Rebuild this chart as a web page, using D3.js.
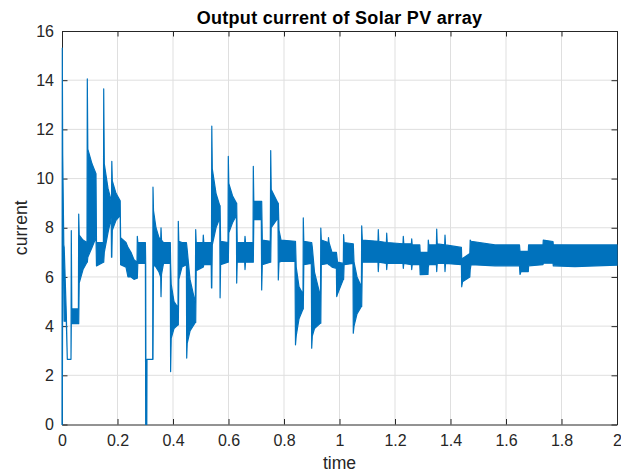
<!DOCTYPE html>
<html>
<head>
<meta charset="utf-8">
<script src="https://cdn.jsdelivr.net/npm/d3@7"></script>
<style>
  html, body { margin: 0; padding: 0; background: #fff; }
  svg text { font-family: "Liberation Sans", Arial, Helvetica, sans-serif; }
</style>
</head>
<body>
<div id="chart"></div>
<script>
// envelope of the (fast oscillating) PV current
var time = [0, 0.0011, 0.0025, 0.0065, 0.0079, 0.0155, 0.0191, 0.0324, 0.0335, 0.0353,
  0.0591, 0.0602, 0.0620, 0.0757, 0.0901, 0.0912, 0.0930, 0.1081, 0.1225, 0.1243,
  0.1492, 0.1503, 0.1524, 0.1658, 0.1773, 0.1784, 0.1795, 0.1813, 0.1946, 0.2097,
  0.2112, 0.2306, 0.2378, 0.2486, 0.2595, 0.2703, 0.2714, 0.2732, 0.3005, 0.3016,
  0.3027, 0.3049, 0.3056, 0.3063, 0.3268, 0.3279, 0.3297, 0.3387, 0.3495, 0.3557,
  0.3568, 0.3586, 0.3658, 0.3903, 0.3914, 0.3935, 0.4036, 0.4180, 0.4191, 0.4209,
  0.4324, 0.4483, 0.4494, 0.4512, 0.4613, 0.4804, 0.4818, 0.4836, 0.5081, 0.5092,
  0.5110, 0.5377, 0.5387, 0.5398, 0.5416, 0.5550, 0.5686, 0.5697, 0.5715, 0.5982,
  0.5993, 0.6011, 0.6144, 0.6285, 0.6295, 0.6314, 0.6584, 0.6595, 0.6613, 0.6883,
  0.6894, 0.6912, 0.7182, 0.7196, 0.7218, 0.7506, 0.7521, 0.7539, 0.7784, 0.7795,
  0.7820, 0.7892, 0.8396, 0.8414, 0.8440, 0.8541, 0.8685, 0.8695, 0.8714, 0.8984,
  0.8998, 0.9020, 0.9099, 0.9315, 0.9326, 0.9344, 0.9593, 0.9604, 0.9622, 0.9730,
  0.9888, 0.9899, 0.9928, 1.0137, 1.0148, 1.0166, 1.0486, 1.0497, 1.0523, 1.0631,
  1.0789, 1.0800, 1.0822, 1.1387, 1.1398, 1.1416, 1.1690, 1.1701, 1.1719, 1.2288,
  1.2299, 1.2317, 1.2591, 1.2602, 1.2620, 1.2894, 1.2908, 1.3189, 1.3200, 1.3218,
  1.3492, 1.3503, 1.3521, 1.3791, 1.3802, 1.3820, 1.4393, 1.4404, 1.4432, 1.4696,
  1.4710, 1.4739, 1.5604, 1.6486, 1.6505, 1.6541, 1.6804, 1.6814, 1.7333, 1.7344,
  1.7694, 1.7705, 1.8486, 2.0];

var upper = [0, 15.3, 11.0, 7.3, 7.2, 4.5, 2.65, 2.65, 7.88, 4.7,
  4.7, 8.56, 7.7, 7.5, 7.4, 14.05, 11.2, 10.6, 10.2, 7.4,
  7.4, 13.65, 10.6, 9.6, 9.1, 9.1, 10.7, 9.9, 9.4, 9.1,
  7.6, 7.4, 7.2, 7.0, 6.7, 6.6, 7.65, 7.4, 7.4, 6.55,
  0, 0, 2.65, 2.65, 2.65, 9.65, 8.7, 8.0, 7.6, 7.5,
  8.0, 7.5, 7.4, 7.4, 6.55, 5.7, 5.0, 4.75, 8.26, 7.45,
  7.4, 7.4, 7.3, 7.1, 5.9, 4.95, 7.92, 7.4, 7.4, 7.7,
  7.4, 7.4, 7.4, 12.13, 10.4, 9.4, 8.9, 8.9, 7.45, 7.4,
  10.9, 9.8, 9.3, 9.0, 9.0, 7.4, 7.4, 7.65, 7.4, 7.4,
  10.5, 9.07, 9.07, 9.07, 7.5, 7.45, 11.14, 9.55, 9.0, 9.0,
  7.9, 7.5, 7.45, 7.45, 6.4, 5.6, 5.3, 8.4, 7.45, 7.4,
  7.4, 7.2, 6.2, 5.2, 7.99, 7.5, 7.4, 7.6, 7.4, 7.0,
  7.0, 6.9, 6.6, 6.55, 7.72, 7.4, 7.35, 7.35, 6.6, 6.0,
  5.6, 8.08, 7.5, 7.45, 7.92, 7.45, 7.4, 7.78, 7.4, 7.35,
  7.65, 7.35, 7.35, 7.55, 7.3, 7.3, 7.0, 7.0, 7.5, 7.3,
  7.3, 7.95, 7.35, 7.3, 7.7, 7.3, 7.2, 6.75, 6.75, 6.95,
  7.5, 7.45, 7.3, 7.3, 7.04, 7.04, 7.04, 7.3, 7.3, 7.5,
  7.44, 7.31, 7.3, 7.3];

var lower = [0, 0, 6.3, 6.3, 4.2, 4.2, 2.65, 2.65, 4.1, 4.1,
  4.1, 4.1, 5.75, 6.3, 6.6, 6.6, 6.8, 7.2, 7.6, 6.45,
  6.6, 6.6, 7.0, 7.8, 8.4, 6.8, 6.8, 7.9, 8.3, 8.5,
  6.5, 6.4, 6.0, 6.0, 5.9, 5.95, 5.95, 6.55, 6.55, 0,
  0, 0, 0, 2.65, 2.65, 2.65, 6.5, 6.4, 6.2, 6.0,
  5.2, 6.1, 6.55, 6.55, 2.15, 3.5, 3.9, 4.05, 4.05, 5.9,
  6.4, 6.5, 2.7, 3.3, 3.8, 4.15, 4.15, 6.25, 6.4, 6.4,
  6.5, 6.5, 5.55, 5.55, 7.3, 8.0, 8.4, 5.15, 6.5, 6.6,
  6.6, 7.8, 8.2, 8.5, 5.75, 6.6, 6.6, 6.3, 6.6, 6.6,
  6.6, 8.33, 8.33, 5.47, 6.5, 6.6, 6.6, 8.0, 8.4, 5.88,
  6.6, 6.63, 6.63, 3.24, 3.6, 4.3, 4.7, 4.7, 6.5, 6.55,
  3.1, 3.6, 3.9, 4.12, 4.12, 6.5, 6.55, 6.5, 6.5, 6.4,
  6.35, 5.2, 5.3, 5.9, 5.9, 6.5, 6.55, 3.71, 4.0, 4.5,
  4.8, 4.8, 6.6, 6.6, 6.22, 6.6, 6.55, 6.3, 6.55, 6.55,
  6.35, 6.55, 6.5, 6.3, 6.5, 6.5, 6.09, 6.1, 6.4, 6.5,
  6.5, 6.22, 6.55, 6.55, 6.22, 6.55, 6.5, 5.6, 5.8, 6.0,
  6.3, 6.5, 6.45, 6.45, 6.1, 6.22, 6.22, 6.45, 6.5, 6.56,
  6.56, 6.45, 6.42, 6.48];

var xTicks = [0, 0.2, 0.4, 0.6, 0.8, 1, 1.2, 1.4, 1.6, 1.8, 2];
var yTicks = [0, 2, 4, 6, 8, 10, 12, 14, 16];

var W = 621, H = 474;
var margin = {top: 31, right: 4, bottom: 49.5, left: 62};
var width = W - margin.left - margin.right,
    height = H - margin.top - margin.bottom;

var svg = d3.select('#chart').append('svg')
    .attr('width', W)
    .attr('height', H);

var g = svg.append('g')
    .attr('transform', 'translate(' + margin.left + ',' + margin.top + ')');

var x = d3.scaleLinear().domain([0, 2]).range([0, width]);
var y = d3.scaleLinear().domain([0, 16]).range([height, 0]);

// grid
g.append('g').selectAll('line')
  .data(xTicks.slice(1, -1))
  .enter().append('line')
    .attr('x1', function(d) { return x(d); })
    .attr('x2', function(d) { return x(d); })
    .attr('y1', 0)
    .attr('y2', height)
    .attr('stroke', '#dfdfdf');

g.append('g').selectAll('line')
  .data(yTicks.slice(1, -1))
  .enter().append('line')
    .attr('y1', function(d) { return y(d); })
    .attr('y2', function(d) { return y(d); })
    .attr('x1', 0)
    .attr('x2', width)
    .attr('stroke', '#dfdfdf');

// axes (ticks inside, box all round)
var fmt = d3.format('~g');

var xAxis = g.append('g')
    .attr('transform', 'translate(0,' + height + ')')
    .call(d3.axisBottom(x).tickValues(xTicks).tickFormat(fmt)
      .tickSizeInner(-5.5).tickSizeOuter(0).tickPadding(10.5));

var yAxis = g.append('g')
    .call(d3.axisLeft(y).tickValues(yTicks).tickFormat(fmt)
      .tickSizeInner(-5.5).tickSizeOuter(0).tickPadding(8));

var topAxis = g.append('g')
    .call(d3.axisTop(x).tickValues(xTicks).tickFormat('')
      .tickSizeInner(-5.5).tickSizeOuter(0));

var rightAxis = g.append('g')
    .attr('transform', 'translate(' + width + ',0)')
    .call(d3.axisRight(y).tickValues(yTicks).tickFormat('')
      .tickSizeInner(-5.5).tickSizeOuter(0));

[xAxis, yAxis, topAxis, rightAxis].forEach(function(a) {
  a.selectAll('path.domain').attr('stroke', '#262626');
  a.selectAll('.tick line').attr('stroke', '#262626');
  a.selectAll('.tick text')
    .attr('fill', '#262626')
    .style('font-size', '16px')
    .style('font-family', '"Liberation Sans", Arial, sans-serif');
});

// signal, drawn over the axes like matlab does
var pts = time.map(function(t, i) { return {t: t, hi: upper[i], lo: lower[i]}; });

svg.append('clipPath').attr('id', 'plotclip')
  .append('rect')
    .attr('x', -1).attr('y', -1)
    .attr('width', width + 2).attr('height', height + 2);

var area = d3.area()
    .x(function(d) { return x(d.t); })
    .y0(function(d) { return y(d.lo); })
    .y1(function(d) { return y(d.hi); });

g.append('path')
    .datum(pts)
    .attr('clip-path', 'url(#plotclip)')
    .attr('d', area)
    .attr('fill', '#0072bd')
    .attr('stroke', '#0072bd')
    .attr('stroke-width', 1.2)
    .attr('stroke-linejoin', 'round');

// labels
svg.append('text')
    .attr('x', margin.left + width / 2)
    .attr('y', 23.5)
    .attr('text-anchor', 'middle')
    .style('font-size', '18px')
    .style('font-weight', 'bold')
    .style('letter-spacing', '0.3px')
    .attr('fill', '#000')
    .text('Output current of Solar PV array');

svg.append('text')
    .attr('x', margin.left + width / 2)
    .attr('y', 468.5)
    .attr('text-anchor', 'middle')
    .style('font-size', '17.6px')
    .attr('fill', '#262626')
    .text('time');

svg.append('text')
    .attr('transform', 'translate(27,' + (margin.top + height / 2) + ') rotate(-90)')
    .attr('text-anchor', 'middle')
    .style('font-size', '17.6px')
    .attr('fill', '#262626')
    .text('current');
</script>
</body>
</html>
